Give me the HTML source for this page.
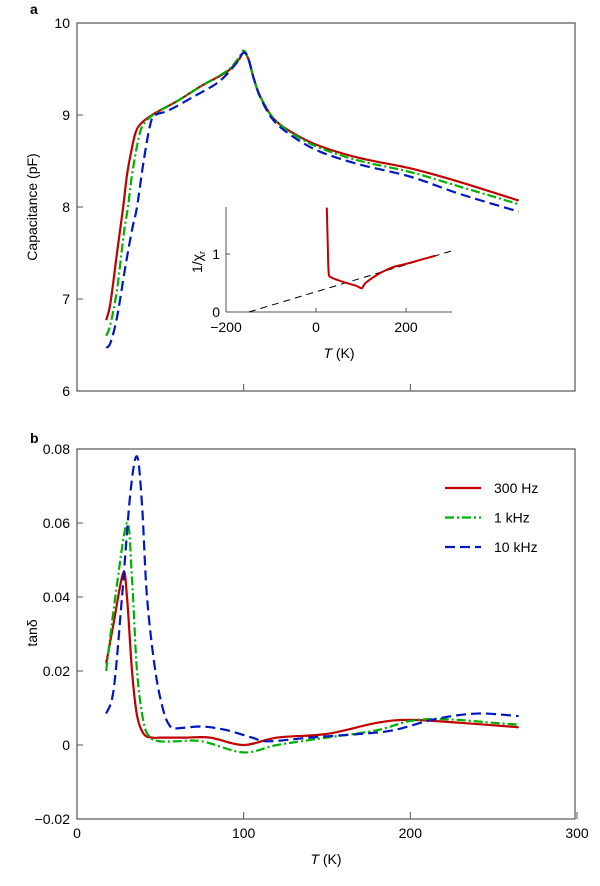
<!DOCTYPE html>
<html><head><meta charset="utf-8"><style>
body{margin:0;background:#fff}
svg text{font-family:"Liberation Sans",sans-serif;fill:#000}
</style></head><body>
<svg id="c" width="600" height="881"></svg>
<script>
// Panel a: capacitance
const capT_red=[17.5,20,24,27.7,30,32.5,35,38,45,60,75,90,97,100,103,106,110,118,130,146,170,200,230,265];
const capV_red=[6.77,6.95,7.5,8.0,8.35,8.6,8.8,8.9,9.0,9.15,9.32,9.47,9.6,9.68,9.6,9.4,9.2,8.96,8.8,8.66,8.53,8.42,8.27,8.07];
const capT_grn=[17.5,20,24,28,30.6,33,37,40,47,60,75,90,97,100,103,106,110,118,130,146,170,200,230,265];
const capV_grn=[6.6,6.72,7.1,7.7,8.0,8.35,8.75,8.9,9.02,9.15,9.32,9.48,9.62,9.7,9.6,9.4,9.2,8.96,8.79,8.64,8.5,8.38,8.22,8.03];
const capT_blu=[17.5,20,24,29,33,36,40,44,47,55,70,85,95,100,103,106,110,118,130,146,170,200,230,265];
const capV_blu=[6.47,6.52,6.8,7.35,7.75,8.0,8.5,8.9,9.0,9.05,9.2,9.36,9.55,9.68,9.6,9.4,9.19,8.94,8.76,8.6,8.46,8.33,8.14,7.95];
// Inset: 1/chi_r
const invT=[24,26,28,33,60,90,102,110,140,170,200,265];
const invV=[1.8,1.2,0.7,0.6,0.52,0.45,0.41,0.5,0.66,0.77,0.83,0.97];
const fitT=[-149,300];
const fitV=[0,1.05];
// Panel b: tan delta
const tdT_red=[17.5,22,27.7,30,33,36,40,45,50,65,80,100,120,150,180,200,230,265];
const tdV_red=[0.022,0.033,0.0465,0.04,0.02,0.008,0.003,0.002,0.002,0.002,0.002,0.0,0.002,0.003,0.006,0.0068,0.006,0.0048];
const tdT_grn=[17.5,23,30,33,36,40,44,50,60,75,100,120,150,180,200,220,250,265];
const tdV_grn=[0.020,0.040,0.060,0.045,0.02,0.006,0.002,0.001,0.001,0.001,-0.002,0.0,0.002,0.004,0.0065,0.007,0.006,0.0055];
const tdT_blu=[17.5,22,27,32,36,39,42,47,52,56,60,75,90,105,115,140,170,190,215,240,265];
const tdV_blu=[0.0085,0.015,0.04,0.068,0.078,0.065,0.04,0.02,0.009,0.005,0.0045,0.005,0.004,0.002,0.001,0.002,0.003,0.004,0.007,0.0085,0.0078];
const xTicks=[0,100,200,300];
const capTicks=[6,7,8,9,10];
const tdTicks=[-0.02,0,0.02,0.04,0.06,0.08];
const legendLabels=["300 Hz","1 kHz","10 kHz"];

const NS="http://www.w3.org/2000/svg", svg=document.getElementById('c');
function el(t,a,p){const e=document.createElementNS(NS,t);for(const k in a)e.setAttribute(k,a[k]);(p||svg).appendChild(e);return e;}
const X=T=>77+T*(500/300);
const Ya=v=>23+(10-v)*92;
const Yb=v=>745-v*3700;
const Xi=T=>226+(T+200)*0.45;
const Yi=v=>312-v*58;
function smooth(xs,ys,fx,fy){const p=xs.map((x,i)=>[fx(x),fy(ys[i])]);let d=`M${p[0][0]},${p[0][1]}`;
for(let i=0;i<p.length-1;i++){const p0=p[Math.max(i-1,0)],p1=p[i],p2=p[i+1],p3=p[Math.min(i+2,p.length-1)];
d+=` C${p1[0]+(p2[0]-p0[0])/6},${p1[1]+(p2[1]-p0[1])/6} ${p2[0]-(p3[0]-p1[0])/6},${p2[1]-(p3[1]-p1[1])/6} ${p2[0]},${p2[1]}`;}return d;}
const styles=[{c:"#c00000",d:""},{c:"#00b000",d:"9 3 2 3"},{c:"#0018c0",d:"10 5"}];
function txt(x,y,s,a,name){const t=el('text',Object.assign({x,y,'font-size':14},a||{}));t.textContent=s;return t;}

// panel a frame
const fa=el('rect',{x:77,y:23,width:498,height:368,fill:'none',stroke:'#555','stroke-width':1.2});

capTicks.forEach(v=>{el('line',{x1:77,x2:83,y1:Ya(v),y2:Ya(v),stroke:'#555'});txt(70,Ya(v)+5,String(v),{'text-anchor':'end'},'y-tick-label');});
[100,200].forEach(v=>el('line',{x1:X(v),x2:X(v),y1:391,y2:384,stroke:'#555'}));
txt(30,14,'a',{'font-weight':'bold'},'panel-a-label');
txt(0,0,'Capacitance (pF)',{transform:'translate(37,207) rotate(-90)','text-anchor':'middle'},'y-axis-title-a');
[[capT_red,capV_red],[capT_grn,capV_grn],[capT_blu,capV_blu]].forEach((s,i)=>{const p=el('path',{d:smooth(s[0],s[1],X,Ya),fill:'none',stroke:styles[i].c,'stroke-width':2.2,'stroke-dasharray':styles[i].d});
});

// inset
el('line',{x1:226,y1:207,x2:226,y2:312,stroke:'#555'});
el('line',{x1:226,y1:312,x2:452,y2:312,stroke:'#555'});
[-200,0,200].forEach(v=>{el('line',{x1:Xi(v),x2:Xi(v),y1:312,y2:308,stroke:'#555'});txt(Xi(v),332,v<0?'\u2212200':String(v),{'text-anchor':'middle'},'inset-x-tick');});
[0,1].forEach(v=>{el('line',{x1:226,x2:230,y1:Yi(v),y2:Yi(v),stroke:'#555'});txt(220,Yi(v)+5,String(v),{'text-anchor':'end'},'inset-y-tick');});
const fit=el('path',{d:`M${Xi(fitT[0])},${Yi(fitV[0])} L${Xi(fitT[1])},${Yi(fitV[1])}`,stroke:'#000','stroke-width':1,'stroke-dasharray':'7 5',fill:'none'});

const inv=el('path',{d:smooth(invT,invV,Xi,Yi),fill:'none',stroke:'#c00000','stroke-width':2});

const it=txt(0,0,'1/\u03C7',{transform:'translate(202,262) rotate(-90)','text-anchor':'middle'},'inset-y-title');
el('tspan',{'font-size':9,dy:3},it).textContent='r';
const ix=txt(339,358,'',{'text-anchor':'middle'},'inset-x-title');
el('tspan',{'font-style':'italic'},ix).textContent='T';el('tspan',{},ix).textContent=' (K)';

// panel b
const fb=el('rect',{x:77,y:449,width:498,height:370,fill:'none',stroke:'#555','stroke-width':1.2});

tdTicks.forEach(v=>{el('line',{x1:77,x2:83,y1:Yb(v),y2:Yb(v),stroke:'#555'});txt(70,Yb(v)+5,v<0?'\u22120.02':(v===0?'0':v.toFixed(2)),{'text-anchor':'end'},'y-tick-label');});
xTicks.forEach(v=>{el('line',{x1:X(v),x2:X(v),y1:819,y2:812,stroke:'#555'});txt(X(v),838,String(v),{'text-anchor':'middle'},'x-tick-label');});
txt(30,443,'b',{'font-weight':'bold'},'panel-b-label');
txt(0,0,'tan\u03B4',{transform:'translate(37,633) rotate(-90)','text-anchor':'middle'},'y-axis-title-b');
const xt=txt(326,864,'',{'text-anchor':'middle'},'x-axis-title');
el('tspan',{'font-style':'italic'},xt).textContent='T';el('tspan',{},xt).textContent=' (K)';
[[tdT_red,tdV_red],[tdT_grn,tdV_grn],[tdT_blu,tdV_blu]].forEach((s,i)=>{const p=el('path',{d:smooth(s[0],s[1],X,Yb),fill:'none',stroke:styles[i].c,'stroke-width':2.2,'stroke-dasharray':styles[i].d});
});
legendLabels.forEach((s,i)=>{const y=488+i*29.5;const l=el('line',{x1:445,x2:481,y1:y,y2:y,stroke:styles[i].c,'stroke-width':2.2,'stroke-dasharray':styles[i].d});

txt(494,y+5,s,{},'legend-entry');});
</script>
</body></html>
